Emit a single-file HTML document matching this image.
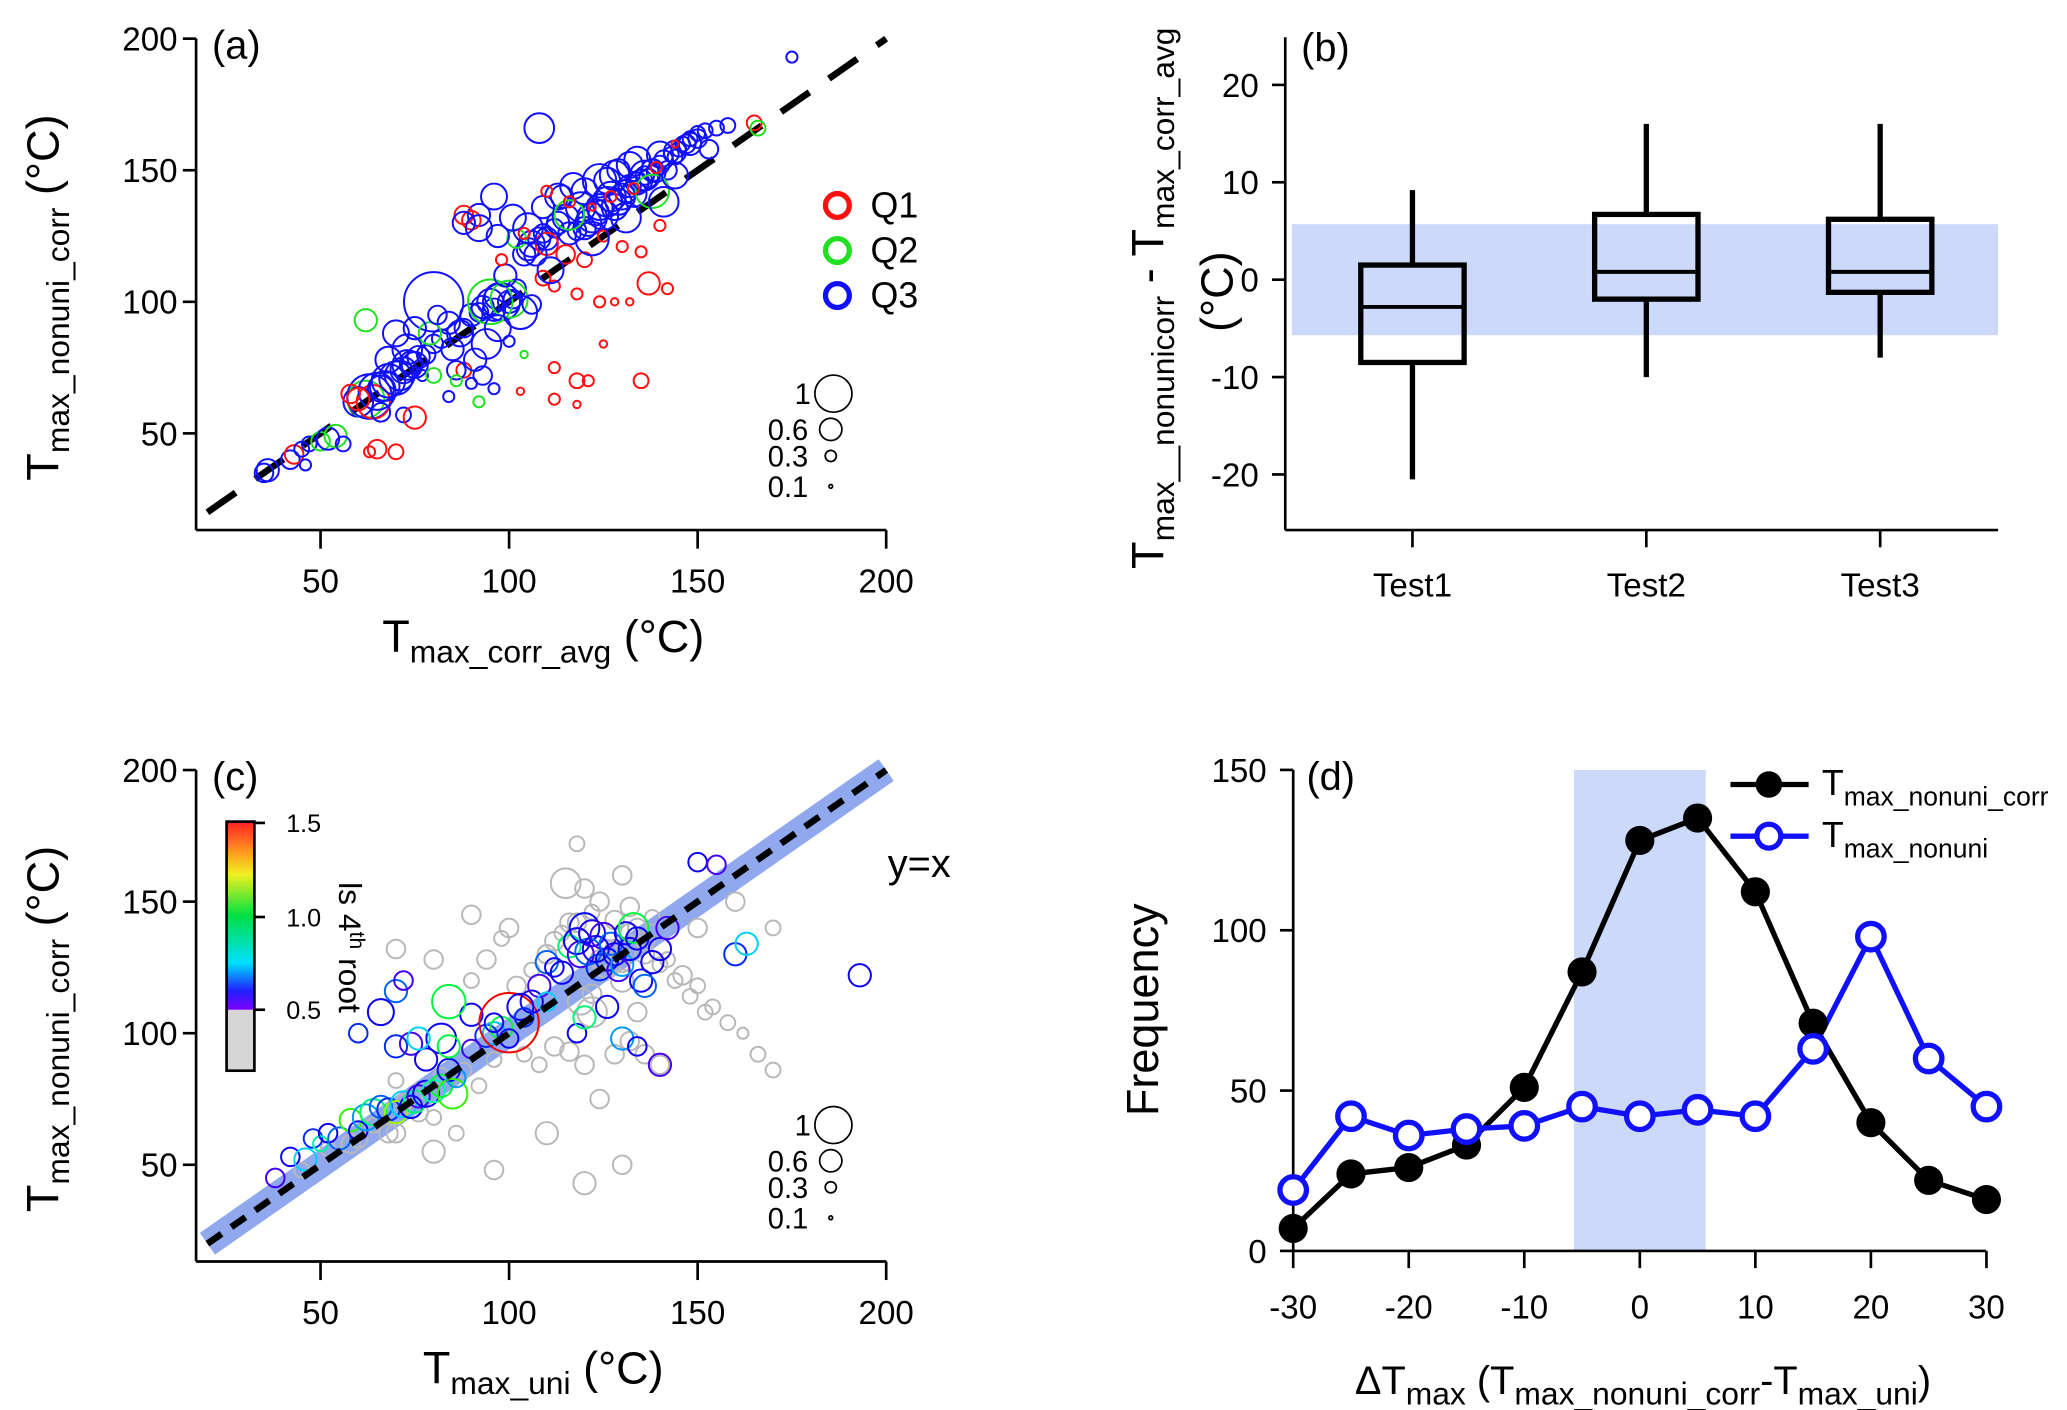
<!DOCTYPE html>
<html><head><meta charset="utf-8"><style>
html,body{margin:0;padding:0;background:#fff}
svg{display:block;font-family:"Liberation Sans",Arial,sans-serif}
</style></head><body>
<svg id="fig" width="2067" height="1410" viewBox="0 0 1560 1064">
<defs>
<linearGradient id="cbar" x1="0" y1="1" x2="0" y2="0">
<stop offset="0" stop-color="#7f00ff"/><stop offset="0.1" stop-color="#2020ff"/><stop offset="0.25" stop-color="#00e0ff"/><stop offset="0.5" stop-color="#00e040"/><stop offset="0.72" stop-color="#f0f020"/><stop offset="0.85" stop-color="#ff9020"/><stop offset="1" stop-color="#ff2020"/>
</linearGradient>
</defs>
<g id="pa"></g>
<g id="pb"></g>
<g id="pc"></g>
<g id="pd"></g>
</svg>
<script>
// ---------- Panel (a) data: x, y, size, quartile(0=Q1,1=Q2,2=Q3)
const aX=[35,36,42,43,45,47,50,52,54,56,60,62,63,64,65,66,67,68,70,71,72,73,74,75,76,78,80,82,85,88,90,92,93,95,96,97,98,100,101,102,104,105,106,108,109,110,112,113,115,116,118,120,121,122,123,124,125,126,127,128,129,130,131,132,133,134,135,136,137,138,139,140,141,142,143,144,145,146,148,150,152,155,158,165,166,175,108,92,90,88,96,102,110,115,120,125,130,135,140,72,77,84,90,96,100,104,112,118,60,66,70,46,58,62,70,80,95,100,106,109,112,118,124,128,132,137,142,80,65,75,135,63,88,103,112,118,121,125,
 84,87,91,94,97,99,103,107,111,114,117,119,122,126,129,131,134,138,141,144,147,150,153,88,92,97,101,105,109,113,116,120,124,128,132,136,140,144,148,68,73,79,86,93,98,104,110,116,122,127,133,139,144,75,81,86,92];
const aY=[35,36,40,42,44,46,47,48,49,46,62,63,64,62,66,67,68,70,71,72,74,76,77,76,79,80,84,86,82,90,95,96,98,100,97,102,100,100,101,105,118,120,122,124,126,124,128,130,132,126,127,128,130,132,134,136,133,138,140,136,138,140,142,144,141,145,146,148,147,150,149,152,154,150,156,155,158,160,162,164,165,166,167,168,166,193,166,133,131,133,140,124,122,118,116,125,121,119,129,57,72,64,69,67,85,80,75,70,63,58,43,38,65,93,88,100,100,101,99,109,106,103,100,100,100,107,105,72,44,56,70,43,74,66,63,61,70,84,
 92,88,78,84,90,110,96,118,112,140,144,136,124,146,150,132,154,142,138,148,160,162,158,130,128,125,132,128,136,140,133,142,146,148,152,148,156,157,160,78,82,88,74,72,116,126,142,138,136,140,143,151,160,90,95,70,62];
const aS=[0.5,0.6,0.5,0.5,0.4,0.4,0.5,0.6,0.6,0.4,0.8,1.0,1.2,0.9,1.0,0.7,0.8,0.9,0.9,0.8,0.7,0.8,0.6,0.7,0.6,0.5,0.5,0.5,0.6,0.5,0.6,0.5,0.6,0.7,0.6,0.7,1.0,0.6,0.5,0.5,0.6,0.6,0.7,0.6,0.5,0.6,0.5,0.6,0.7,0.6,0.5,0.6,0.7,0.8,0.7,0.7,0.8,0.8,0.8,0.7,0.7,0.7,0.6,0.6,0.7,0.6,0.6,0.5,0.5,0.6,0.5,0.5,0.5,0.5,0.4,0.4,0.4,0.4,0.4,0.4,0.4,0.4,0.4,0.4,0.4,0.3,0.8,0.6,0.5,0.5,0.7,0.5,0.6,0.5,0.4,0.3,0.3,0.3,0.3,0.4,0.3,0.3,0.3,0.3,0.3,0.2,0.3,0.4,0.6,0.5,0.4,0.3,0.5,0.6,0.7,1.6,1.2,1.0,0.5,0.4,0.3,0.3,0.3,0.2,0.2,0.6,0.3,0.4,0.5,0.6,0.4,0.3,0.4,0.2,0.3,0.2,0.3,0.2,
 0.6,0.7,0.6,0.8,0.7,0.6,0.9,0.6,0.7,0.6,0.7,0.8,0.9,0.7,0.6,0.8,0.7,0.9,0.8,0.7,0.5,0.5,0.5,0.6,0.7,0.6,0.7,0.8,0.6,0.7,0.8,0.7,0.9,0.8,0.7,0.8,0.7,0.6,0.6,0.7,0.8,0.6,0.5,0.5,0.3,0.3,0.3,0.3,0.2,0.3,0.3,0.3,0.2,0.6,0.5,0.3,0.3];
const aQ=[2,2,2,0,2,2,1,2,1,2,2,1,2,0,2,2,2,2,2,2,2,2,2,2,2,2,2,2,2,2,2,2,2,2,2,2,2,2,2,2,2,2,2,2,2,2,2,2,2,2,2,2,2,2,2,2,2,2,2,2,2,2,2,2,2,2,2,2,2,2,2,2,2,2,2,2,2,2,2,2,2,2,2,0,1,2,2,2,0,0,2,1,0,0,0,0,0,0,0,2,2,2,2,2,2,1,0,0,0,2,0,2,0,1,2,2,1,1,2,0,0,0,0,0,0,0,0,1,0,0,0,0,0,0,0,0,0,0,
 2,2,2,2,2,2,2,2,2,2,2,2,2,2,2,2,2,1,2,2,2,2,2,2,2,2,2,2,2,2,1,2,2,2,2,2,2,2,2,2,2,1,2,2,0,0,0,0,0,0,0,0,0,2,2,1,1];
// ---------- Panel (b) data
const bCats=["Test1","Test2","Test3"];
const bMin=[-20.5,-10,-8];
const bQ1=[-8.5,-2,-1.3];
const bMed=[-2.8,0.8,0.8];
const bQ3=[1.5,6.7,6.2];
const bMax=[9.2,16,16];
const bBand=[-5.7,5.7];
const bTicks=[20,10,0,-10,-20];
// ---------- Panel (c) data: x, y, size, colour value (<0.5 = grey)
const cX=[38,42,46,48,50,52,55,58,60,62,64,66,68,70,72,74,75,76,78,80,82,84,85,86,70,74,78,82,84,90,94,96,98,100,103,106,108,110,112,114,116,118,119,120,121,122,123,124,125,126,127,128,129,130,131,132,133,134,135,136,138,140,142,60,66,70,72,76,84,90,96,100,104,110,118,120,126,130,134,140,150,155,160,163,193,115,119,122,126,130,112,116,120,124,128,132,136,140,60,70,80,96,110,120,130,110,100,90,80,70,120,130,150,160,170,118,124,128,132,136,122,134,
 45,52,58,64,68,72,76,80,86,90,94,98,102,106,110,114,118,122,126,130,134,138,142,146,150,154,158,162,166,170,112,116,124,128,132,136,140,144,148,152,70,76,82,88,92,96,104,108,60,66];
const cY=[45,53,52,60,58,62,60,67,63,68,70,72,71,70,73,72,74,76,77,78,80,86,77,83,95,96,90,98,95,107,99,100,102,104,110,112,118,127,125,123,133,135,130,140,131,138,132,125,137,128,134,130,124,126,138,132,140,136,120,118,127,132,140,100,108,116,120,98,112,94,104,98,106,112,100,106,110,98,95,88,165,164,130,134,122,157,112,108,126,120,95,93,88,75,92,97,92,88,60,62,55,48,62,43,50,130,140,145,128,132,155,160,140,150,140,172,150,143,148,135,115,108,
 48,56,58,65,62,74,70,68,62,120,128,136,118,124,130,138,142,146,132,126,140,144,128,122,118,110,104,100,92,86,135,142,128,132,138,130,126,120,114,108,82,78,84,86,80,90,92,88,140,145];
const cS=[0.5,0.5,0.6,0.5,0.4,0.5,0.6,0.6,0.5,0.7,0.7,0.6,0.6,0.6,0.7,0.6,0.6,0.6,0.7,0.6,0.6,0.6,0.8,0.5,0.6,0.6,0.6,0.8,0.6,0.6,0.6,0.6,0.6,1.6,0.7,0.6,0.6,0.6,0.5,0.6,0.6,0.7,0.7,0.8,0.7,0.7,0.7,0.7,0.7,0.6,0.6,0.6,0.6,0.6,0.6,0.6,0.8,0.6,0.6,0.6,0.6,0.6,0.6,0.5,0.7,0.6,0.5,0.6,0.9,0.5,0.5,0.5,0.5,0.5,0.5,0.6,0.6,0.6,0.5,0.6,0.5,0.5,0.6,0.6,0.6,0.8,0.7,0.8,0.7,0.6,0.5,0.5,0.5,0.5,0.5,0.5,0.5,0.5,0.5,0.5,0.6,0.5,0.6,0.6,0.5,0.5,0.5,0.5,0.5,0.5,0.5,0.5,0.5,0.5,0.4,0.4,0.5,0.5,0.5,0.5,0.5,0.5,
 0.4,0.4,0.5,0.4,0.5,0.4,0.5,0.4,0.4,0.4,0.5,0.4,0.5,0.4,0.5,0.4,0.5,0.4,0.5,0.4,0.5,0.4,0.4,0.5,0.4,0.4,0.4,0.3,0.4,0.4,0.5,0.5,0.5,0.5,0.5,0.5,0.4,0.4,0.4,0.4,0.4,0.4,0.4,0.4,0.4,0.4,0.4,0.4,0.4,0.4];
const cV=[0.55,0.6,0.8,0.65,0.9,0.6,0.7,1.1,0.6,0.75,0.95,0.7,0.65,1.2,0.8,0.6,0.95,0.55,0.6,0.9,1.0,0.62,1.1,0.75,0.65,0.55,0.6,0.6,1.0,0.6,0.65,0.78,1.0,1.5,0.6,0.6,0.55,0.7,0.6,0.6,0.95,0.6,0.55,0.62,0.7,0.58,0.6,0.65,0.55,0.62,0.7,0.6,0.55,0.75,0.6,0.6,1.0,0.6,0.6,0.7,0.6,0.6,0.55,0.65,0.6,0.7,0.55,0.8,1.0,0.55,0.6,0.6,0.65,0.8,0.6,0.95,0.6,0.75,0.6,0.55,0.6,0.55,0.65,0.8,0.6,0.3,0.3,0.3,0.3,0.3,0.3,0.3,0.3,0.3,0.3,0.3,0.3,0.3,0.3,0.3,0.3,0.3,0.3,0.3,0.3,0.3,0.3,0.3,0.3,0.3,0.3,0.3,0.3,0.3,0.3,0.3,0.3,0.3,0.3,0.3,
 0.3,0.3,0.3,0.3,0.3,0.3,0.3,0.3,0.3,0.3,0.3,0.3,0.3,0.3,0.3,0.3,0.3,0.3,0.3,0.3,0.3,0.3,0.3,0.3,0.3,0.3,0.3,0.3,0.3,0.3,0.3,0.3,0.3,0.3,0.3,0.3,0.3,0.3,0.3,0.3,0.3,0.3,0.3,0.3,0.3,0.3,0.3,0.3,0.3,0.3];
// ---------- Panel (d) data
const dX=[-30,-25,-20,-15,-10,-5,0,5,10,15,20,25,30];
const dCorr=[7,24,26,33,51,87,128,135,112,71,40,22,16];
const dNonuni=[19,42,36,38,39,45,42,44,42,63,98,60,45];
const dBand=[-5.7,5.7];

const NS="http://www.w3.org/2000/svg";
function mk(parent,tag,attrs,name,inter){
  const e=document.createElementNS(NS,tag);
  for(const k in attrs)e.setAttribute(k,attrs[k]);
  
  
  parent.appendChild(e);return e;
}
function txt(parent,x,y,s,size,anchor,name,extra){
  const t=mk(parent,'text',Object.assign({x:x,y:y,'font-size':size,'text-anchor':anchor||'middle',fill:'#000'},extra||{}),name,false);
  t.innerHTML=s;return t;
}
const A=document.getElementById('pa'),B=document.getElementById('pb'),C=document.getElementById('pc'),D=document.getElementById('pd');

const sx=v=>148+(v-17)*2.846;
const syA=v=>327-(v-50)*1.986;
const syC=v=>879-(v-50)*1.986;
function scatterAxes(G,sy,top,bottom,ytitle,xtitle,lab){
  mk(G,'line',{x1:148,y1:top,x2:148,y2:bottom,stroke:'#000','stroke-width':2},'y-axis',false);
  mk(G,'line',{x1:148,y1:bottom,x2:669,y2:bottom,stroke:'#000','stroke-width':2},'x-axis',false);
  [50,100,150,200].forEach(v=>{
    mk(G,'line',{x1:138,y1:sy(v),x2:148,y2:sy(v),stroke:'#000','stroke-width':2},'y-tick',false);
    txt(G,134,sy(v)+9,v,25,'end','y-tick-label');
    mk(G,'line',{x1:sx(v),y1:bottom,x2:sx(v),y2:bottom+14,stroke:'#000','stroke-width':2},'x-tick',false);
    txt(G,sx(v),bottom+47,v,25,'middle','x-tick-label');
  });
  txt(G,160,top+15,lab,30,'start','panel-label');
  txt(G,0,0,ytitle,34,'middle','y-axis-title',{transform:`translate(44,${(top+bottom)/2+10}) rotate(-90)`});
  txt(G,410,bottom+92,xtitle,34,'middle','x-axis-title');
}
// ---------- Panel (a)
scatterAxes(A,syA,29,400,'T<tspan font-size="24" dy="8">max_nonuni_corr</tspan><tspan dy="-8">  (°C)</tspan>','T<tspan font-size="24" dy="8">max_corr_avg</tspan><tspan dy="-8">  (°C)</tspan>','(a)');
mk(A,'line',{x1:sx(20),y1:syA(20),x2:sx(200),y2:syA(200),stroke:'#000','stroke-width':5,'stroke-dasharray':'26,18'},'y-equals-x-line',false);
const qCol=['#ff1010','#20e020','#1010ff'];
for(let i=0;i<aX.length;i++){
  mk(A,'circle',{cx:sx(aX[i]),cy:syA(aY[i]),r:Math.max(1,aS[i]*14),fill:'none',stroke:qCol[aQ[i]],'stroke-width':1.5},'scatter-point',false);
}
['Q1','Q2','Q3'].forEach((q,i)=>{
  mk(A,'circle',{cx:632,cy:155+i*34,r:9,fill:'none',stroke:qCol[i],'stroke-width':4},'legend-marker-'+q.toLowerCase(),false);
  txt(A,657,164+i*34,q,27,'start','legend-label-'+q.toLowerCase());
});
function sizeLegend(G,y0){
  const sz=[1,0.6,0.3,0.1],dy=[0,27,47,70];
  sz.forEach((s,i)=>{
    mk(G,'circle',{cx:629-(i?2:0),cy:y0+dy[i],r:Math.max(0.8,s*14),fill:'none',stroke:'#000','stroke-width':1.3},'size-legend-circle',false);
    txt(G,612-(i?2:0),y0+dy[i]+8,s,22,'end','size-legend-label');
  });
}
sizeLegend(A,297);

// ---------- Panel (b)
const byv=v=>211-v*7.35;
const bx=i=>1066+i*176.5;
mk(B,'rect',{x:975,y:byv(bBand[1]),width:533,height:byv(bBand[0])-byv(bBand[1]),fill:'#cdd9fb'},'tolerance-band',false);
mk(B,'line',{x1:970,y1:28,x2:970,y2:400,stroke:'#000','stroke-width':2},'y-axis',false);
mk(B,'line',{x1:970,y1:400,x2:1508,y2:400,stroke:'#000','stroke-width':2},'x-axis',false);
bTicks.forEach(v=>{
  mk(B,'line',{x1:960,y1:byv(v),x2:970,y2:byv(v),stroke:'#000','stroke-width':2},'y-tick',false);
  txt(B,950,byv(v)+9,v,25,'end','y-tick-label');
});
bCats.forEach((c,i)=>{
  mk(B,'line',{x1:bx(i),y1:400,x2:bx(i),y2:413,stroke:'#000','stroke-width':2},'x-tick',false);
  txt(B,bx(i),450,c,25,'middle','x-tick-label');
  mk(B,'line',{x1:bx(i),y1:byv(bMin[i]),x2:bx(i),y2:byv(bQ1[i]),stroke:'#000','stroke-width':4},'lower-whisker-'+c.toLowerCase(),false);
  mk(B,'line',{x1:bx(i),y1:byv(bQ3[i]),x2:bx(i),y2:byv(bMax[i]),stroke:'#000','stroke-width':4},'upper-whisker-'+c.toLowerCase(),false);
  mk(B,'rect',{x:bx(i)-39,y:byv(bQ3[i]),width:78,height:byv(bQ1[i])-byv(bQ3[i]),fill:'none',stroke:'#000','stroke-width':4},'box-'+c.toLowerCase(),false);
  mk(B,'line',{x1:bx(i)-39,y1:byv(bMed[i]),x2:bx(i)+39,y2:byv(bMed[i]),stroke:'#000','stroke-width':3},'median-'+c.toLowerCase(),false);
});
txt(B,982,46,'(b)',30,'start','panel-label');
txt(B,0,0,'T<tspan font-size="24" dy="8">max__nonunicorr</tspan><tspan dy="-8"> - T</tspan><tspan font-size="24" dy="8">max_corr_avg</tspan>',34,'middle','y-axis-title',{transform:'translate(878,225) rotate(-90)'});
txt(B,0,0,'(°C)',34,'middle','y-axis-title-units',{transform:'translate(930,220) rotate(-90)'});

// ---------- Panel (c)
mk(C,'line',{x1:sx(20),y1:syC(20),x2:sx(200),y2:syC(200),stroke:'#8fa8ee','stroke-width':20},'tolerance-band',false);
scatterAxes(C,syC,581,952,'T<tspan font-size="24" dy="8">max_nonuni_corr</tspan><tspan dy="-8"> (°C)</tspan>','T<tspan font-size="24" dy="8">max_uni</tspan><tspan dy="-8"> (°C)</tspan>','(c)');
function cmap(v){ if(v<0.5)return '#b8b8b8'; const h=Math.max(0,270-(v-0.5)*270); return `hsl(${h},100%,48%)`; }
const order=[...cX.keys()].sort((a,b)=>(cV[a]<0.5?0:1)-(cV[b]<0.5?0:1));
order.forEach(i=>{
  mk(C,'circle',{cx:sx(cX[i]),cy:syC(cY[i]),r:Math.max(1,cS[i]*14),fill:'none',stroke:cmap(cV[i]),'stroke-width':1.5},'scatter-point',false);
});
mk(C,'line',{x1:sx(20),y1:syC(20),x2:sx(200),y2:syC(200),stroke:'#000','stroke-width':5,'stroke-dasharray':'13,9'},'y-equals-x-line',false);
txt(C,670,662,'y=x',30,'start','y-equals-x-label');
mk(C,'rect',{x:171,y:762,width:21,height:46,fill:'#d6d6d6'},'colorbar-grey',false);
mk(C,'rect',{x:171,y:620,width:21,height:142,fill:'url(#cbar)'},'colorbar',false);
mk(C,'rect',{x:171,y:620,width:21,height:188,fill:'none',stroke:'#000','stroke-width':2},'colorbar-frame',false);
[[1.5,621],[1.0,692],[0.5,762]].forEach(([v,y])=>{
  mk(C,'line',{x1:192,y1:y,x2:200,y2:y,stroke:'#000','stroke-width':2},'colorbar-tick',false);
  txt(C,216,y+7,v.toFixed(1),19,'start','colorbar-tick-label');
});
txt(C,0,0,'ls 4<tspan font-size="16" dy="-8">th</tspan><tspan dy="8"> root</tspan>',24,'middle','colorbar-title',{transform:'translate(256,715) rotate(90)'});
sizeLegend(C,849);

// ---------- Panel (d)
const dxs=v=>976+(v+30)*8.72;
const dys=v=>944-v*2.42;
mk(D,'rect',{x:dxs(dBand[0]),y:581,width:dxs(dBand[1])-dxs(dBand[0]),height:363,fill:'#cdd9fb'},'tolerance-band',false);
mk(D,'line',{x1:976,y1:581,x2:976,y2:944,stroke:'#000','stroke-width':2},'y-axis',false);
mk(D,'line',{x1:976,y1:944,x2:1499,y2:944,stroke:'#000','stroke-width':2},'x-axis',false);
[0,50,100,150].forEach(v=>{
  mk(D,'line',{x1:966,y1:dys(v),x2:976,y2:dys(v),stroke:'#000','stroke-width':2},'y-tick',false);
  txt(D,956,dys(v)+9,v,25,'end','y-tick-label');
});
[-30,-20,-10,0,10,20,30].forEach(v=>{
  mk(D,'line',{x1:dxs(v),y1:944,x2:dxs(v),y2:957,stroke:'#000','stroke-width':2},'x-tick',false);
  txt(D,dxs(v),995,v,25,'middle','x-tick-label');
});
txt(D,986,596,'(d)',30,'start','panel-label');
txt(D,0,0,'Frequency',34,'middle','y-axis-title',{transform:'translate(874,762) rotate(-90)'});
txt(D,1240,1052,'ΔT<tspan font-size="24" dy="8">max</tspan><tspan dy="-8"> (T</tspan><tspan font-size="24" dy="8">max_nonuni_corr</tspan><tspan dy="-8">-T</tspan><tspan font-size="24" dy="8">max_uni</tspan><tspan dy="-8">)</tspan>',30,'middle','x-axis-title');
const pCorr=dX.map((x,i)=>dxs(x)+','+dys(dCorr[i])).join(' ');
const pNon=dX.map((x,i)=>dxs(x)+','+dys(dNonuni[i])).join(' ');
mk(D,'polyline',{points:pCorr,fill:'none',stroke:'#000','stroke-width':4},'series-nonuni-corr-line',false);
mk(D,'polyline',{points:pNon,fill:'none',stroke:'#1010ff','stroke-width':4},'series-nonuni-line',false);
dX.forEach((x,i)=>{
  mk(D,'circle',{cx:dxs(x),cy:dys(dCorr[i]),r:11,fill:'#000'},'point-nonuni-corr',false);
});
dX.forEach((x,i)=>{
  mk(D,'circle',{cx:dxs(x),cy:dys(dNonuni[i]),r:10,fill:'#fff',stroke:'#1010ff','stroke-width':4},'point-nonuni',false);
});
mk(D,'line',{x1:1306,y1:592,x2:1365,y2:592,stroke:'#000','stroke-width':4},'legend-line-corr',false);
mk(D,'circle',{cx:1335,cy:592,r:10,fill:'#000'},'legend-marker-corr',false);
txt(D,1375,600,'T<tspan font-size="20" dy="8">max_nonuni_corr</tspan>',27,'start','legend-label-corr');
mk(D,'line',{x1:1306,y1:631,x2:1365,y2:631,stroke:'#1010ff','stroke-width':4},'legend-line-nonuni',false);
mk(D,'circle',{cx:1335,cy:631,r:9,fill:'#fff',stroke:'#1010ff','stroke-width':4},'legend-marker-nonuni',false);
txt(D,1375,639,'T<tspan font-size="20" dy="8">max_nonuni</tspan>',27,'start','legend-label-nonuni');
</script>
</body></html>
